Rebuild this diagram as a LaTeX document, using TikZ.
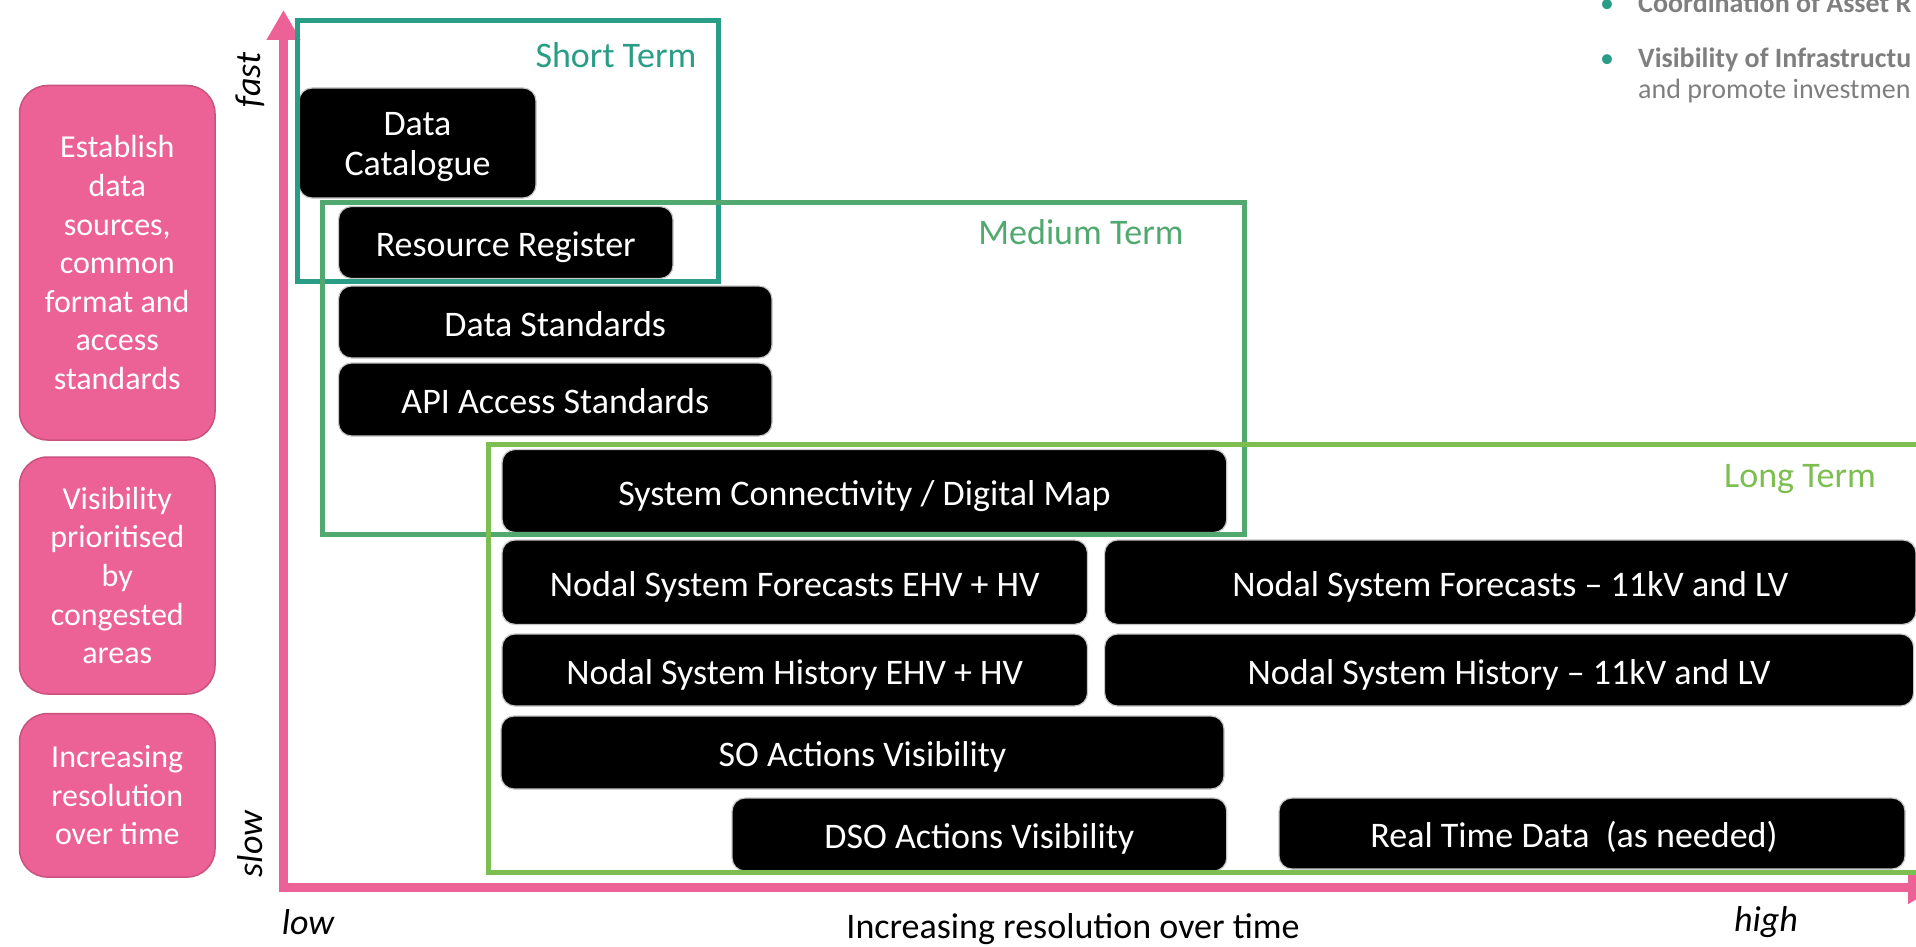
\documentclass[tikz,border=0pt]{standalone}
\usepackage{fontspec}
\setmainfont{Carlito}
\usetikzlibrary{arrows.meta}
\definecolor{axispink}{HTML}{EC6196}
\definecolor{pinkedge}{HTML}{C9527F}
\definecolor{shortc}{HTML}{2A9D86}
\definecolor{mediumc}{HTML}{52A96F}
\definecolor{longc}{HTML}{7DBE50}
\definecolor{notegray}{HTML}{7F7F7F}
\begin{document}
\begin{tikzpicture}[x=1pt,y=-1pt,
  blk/.style={fill=black, draw=gray!45, line width=1.2pt, rounded corners=13pt,
    text=white, font=\fontsize{36}{40}\selectfont, align=center, inner sep=0pt,
    text height=31pt, text depth=3pt},
  pinkbox/.style={fill=axispink, draw=pinkedge, line width=1.5pt, rounded corners=28pt,
    text=white, font=\fontsize{32}{38.6}\selectfont, align=center, inner sep=0pt,
    minimum width=195.5pt},
  axis/.style={draw=axispink, line width=9pt, line join=miter,
    {Triangle[width=32pt,length=30pt]}-{Triangle[width=32pt,length=30pt]}},
  termframe/.style={line width=5pt},
  termlabel/.style={font=\fontsize{36}{40}\selectfont, inner sep=0pt},
  axislabel/.style={font=\fontsize{36}{40}\selectfont\itshape, inner sep=0pt},
  note/.style={font=\fontsize{28}{32}\selectfont, text=notegray, inner sep=0pt, anchor=base west},
  bullet/.style={font=\fontsize{28}{32}\selectfont, text=shortc, inner sep=0pt, anchor=base}
]
\useasboundingbox (0,0) rectangle (1916,947);

% notes in the upper right corner
\node[bullet] (b1) at (1607,13) {•};
\node[note] (n1) at (1638,13) {\bfseries Coordination of Asset R};
\node[bullet] (b2) at (1607,68) {•};
\node[note] (n2) at (1638,68) {\bfseries Visibility of Infrastructu};
\node[note] (n3) at (1638,99) {and promote investmen};

% side categories
\node[pinkbox, minimum height=354.5pt] (cat1) at (117.25,262.75)
  {Establish\\data\\sources,\\common\\format and\\access\\standards};
\node[pinkbox, minimum height=237pt] (cat2) at (117.25,575.5)
  {Visibility\\prioritised\\by\\congested\\areas};
\node[pinkbox, minimum height=163.5pt] (cat3) at (117.25,795.3)
  {Increasing\\resolution\\over time};

% axes
\coordinate (O) at (283.5,887);
\coordinate (ytip) at (283.5,10);
\coordinate (xtip) at (1938,887);
\draw[axis] (ytip) -- (O) -- (xtip);

\node[axislabel, rotate=90] (fast) at (250,80) {fast};
\node[axislabel, rotate=90] (slow) at (250,844) {slow};
\node[axislabel] (low) at (308,922) {low};
\node[axislabel] (high) at (1766,922) {high};
\node[termlabel] (xlab) at (1073,929) {Increasing resolution over time};

% data items
\node[blk, text height={}, text depth={}, minimum width=237pt, minimum height=110pt] (dcat) at (417.5,143)
  {\rule{0pt}{31pt}Data\\Catalogue};
\node[blk, minimum width=334.5pt, minimum height=72pt] (rreg) at (505.75,242.5) {Resource Register};
\node[blk, minimum width=433.5pt, minimum height=72pt] (dstd) at (555.25,322) {Data Standards};
\node[blk, minimum width=433.5pt, minimum height=73pt] (api) at (555.25,399.5) {API Access Standards};
\node[blk, minimum width=724.7pt, minimum height=83pt] (conn) at (864.4,491) {System Connectivity / Digital Map};
\node[blk, minimum width=585.5pt, minimum height=84.4pt] (fehv) at (794.75,582.2) {Nodal System Forecasts EHV + HV};
\node[blk, minimum width=811.4pt, minimum height=84.4pt] (flv) at (1510.3,582.2) {Nodal System Forecasts – 11kV and LV};
\node[blk, minimum width=585.5pt, minimum height=72pt] (hehv) at (794.75,670) {Nodal System History EHV + HV};
\node[blk, minimum width=809pt, minimum height=72pt] (hlv) at (1509.1,670) {Nodal System History – 11kV and LV};
\node[blk, minimum width=723pt, minimum height=73pt] (so) at (862.5,752.5) {SO Actions Visibility};
\node[blk, minimum width=494.7pt, minimum height=73pt] (dso) at (979.4,834.5) {DSO Actions Visibility};
\node[blk, minimum width=626pt, minimum height=71pt] (rt) at (1592,833.5) {\hspace*{-36pt}Real Time Data~~(as needed)};

% time horizons
\draw[termframe, draw=shortc] (297,20.8) rectangle (718.5,281);
\draw[termframe, draw=mediumc] (322.6,202.8) rectangle (1244,534);
\draw[termframe, draw=longc] (488.8,444.8) rectangle (1935,872.4);
\node[termlabel, text=shortc, anchor=east] (st) at (696.5,55) {Short Term};
\node[termlabel, text=mediumc] (mt) at (1081,232) {Medium Term};
\node[termlabel, text=longc] (lt) at (1800,479) {Long Term};
\end{tikzpicture}
\end{document}
